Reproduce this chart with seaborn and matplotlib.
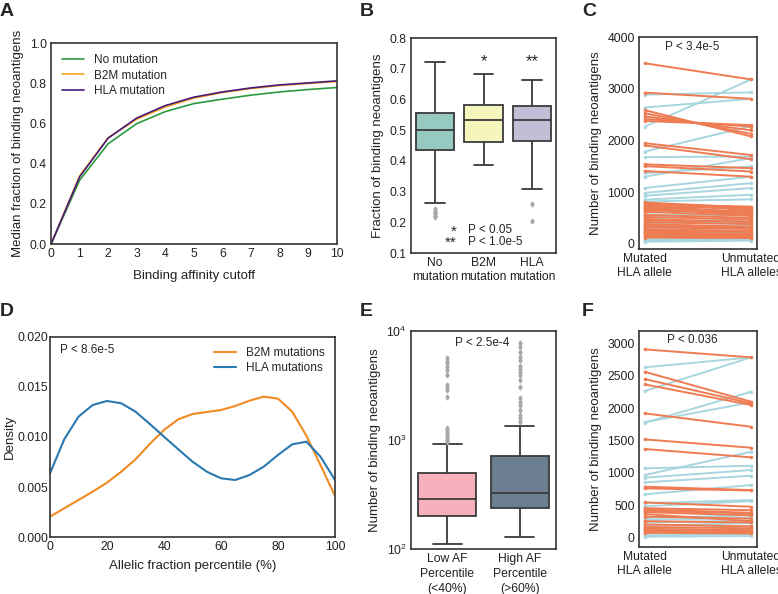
import numpy as np
import pandas as pd
import matplotlib
matplotlib.use("Agg")
import matplotlib.pyplot as plt
import seaborn as sns

# =========================
# Data
# =========================
# A: median fraction of binding neoantigens vs binding affinity cutoff
cutoffs = [0, 1, 2, 3, 4, 5, 6, 7, 8, 9, 10]
frac_no_mut = [0.0, 0.318, 0.500, 0.600, 0.660, 0.700, 0.722, 0.742, 0.758, 0.770, 0.780]
frac_b2m = [0.0, 0.340, 0.530, 0.622, 0.683, 0.727, 0.755, 0.775, 0.790, 0.800, 0.810]
frac_hla = [0.0, 0.335, 0.528, 0.628, 0.690, 0.732, 0.758, 0.778, 0.793, 0.803, 0.813]

# B: box stats (whisker low, q1, median, q3, whisker high, outliers)
b_groups = ["No\nmutation", "B2M\nmutation", "HLA\nmutation"]
b_no_mut = [0.263, 0.437, 0.502, 0.555, 0.722]
b_no_mut_out = [0.218, 0.222, 0.226, 0.230, 0.234, 0.238, 0.242]
b_b2m = [0.385, 0.461, 0.533, 0.581, 0.684]
b_b2m_out = []
b_hla = [0.308, 0.466, 0.533, 0.578, 0.662]
b_hla_out = [0.260, 0.203]

# C: paired counts (mutated HLA allele, unmutated HLA alleles)
c_pairs = [
    (3500, 3185), (2930, 2810), (2590, 2080), (2530, 2130), (2470, 2200),
    (2420, 2270), (2380, 2300), (1950, 1720), (1905, 1640), (1540, 1465),
    (1505, 1400), (1410, 1300), (800, 700), (780, 650), (760, 720),
    (740, 600), (720, 690), (700, 620), (680, 560), (650, 600),
    (620, 540), (560, 500), (520, 470), (480, 420), (450, 430),
    (420, 380), (380, 330), (350, 300), (320, 290), (280, 250),
    (250, 230), (220, 190), (200, 170), (180, 160), (150, 130), (120, 110),
    (2890, 2935), (2640, 2810), (2270, 3185), (1785, 2280), (1680, 1690),
    (1370, 1500), (1300, 1660), (1080, 1300), (985, 1175), (930, 1080),
    (855, 950), (820, 860), (600, 650), (550, 580), (500, 560),
    (430, 470), (380, 420), (330, 360), (280, 320), (240, 260),
    (200, 230), (160, 180), (120, 140), (90, 110), (70, 100),
    (50, 80), (40, 60),
]

# D: density of allelic fraction percentile
af_pct = [0, 5, 10, 15, 20, 25, 30, 35, 40, 45, 50,
          55, 60, 65, 70, 75, 80, 85, 90, 95, 100]
dens_b2m = [0.00206, 0.00289, 0.00372, 0.00455, 0.00545, 0.00654, 0.00777,
            0.00930, 0.01070, 0.01176, 0.01229, 0.01249, 0.01269, 0.01309,
            0.01362, 0.01402, 0.01382, 0.01252, 0.01010, 0.00714, 0.00412]
dens_hla = [0.00638, 0.00977, 0.01203, 0.01319, 0.01359, 0.01336, 0.01252,
            0.01130, 0.01003, 0.00877, 0.00754, 0.00654, 0.00588, 0.00571,
            0.00621, 0.00704, 0.00821, 0.00927, 0.00953, 0.00800, 0.00571]

# E: box stats on log axis
e_groups = ["Low AF\nPercentile\n(<40%)", "High AF\nPercentile\n(>60%)"]
e_low = [111, 202, 288, 494, 925]
e_low_out = [950, 1000, 1040, 1080, 1130, 1180, 1230, 1290, 2495, 2875,
             3040, 3200, 3950, 4385, 4700, 5060, 5310, 5630]
e_high = [128, 239, 329, 713, 1343]
e_high_out = [1470, 1580, 1690, 1870, 2090, 2240, 2415, 3080, 3550, 3950,
              4170, 4470, 4800, 5380, 5780, 6460, 7180, 7820]

# F: paired counts
f_pairs = [
    (2907, 2783), (2561, 2097), (2448, 2072), (2366, 2046), (1917, 1710),
    (1515, 1386), (1366, 1237), (783, 731), (757, 725), (541, 473),
    (450, 420), (430, 380), (410, 370), (390, 340), (360, 250),
    (320, 290), (250, 230), (200, 170), (160, 140), (130, 110),
    (110, 95), (90, 70), (70, 60),
    (2629, 2783), (2262, 2783), (1772, 2252), (1780, 2088), (1067, 1107),
    (963, 1324), (922, 1041), (850, 953), (665, 809), (526, 577),
    (480, 560), (300, 340), (270, 300), (230, 260), (180, 220),
    (140, 170), (100, 120), (60, 80), (30, 50), (10, 20),
]
pair_labels = ["Mutated\nHLA allele", "Unmutated\nHLA alleles"]


def box_sample(stats, fliers):
    """Small sample whose boxplot stats are exactly the given ones."""
    lo, q1, med, q3, hi = stats
    low = sorted(f for f in fliers if f < lo)
    high = sorted(f for f in fliers if f > hi)
    m = max(len(low), len(high)) + 1
    vals = low + [lo] + [q1] * (m - len(low))
    vals += [med] * m
    vals += [q3] * m
    vals += [q3] * (m - 1 - len(high)) + [hi] + high
    return vals


def pair_frame(pairs):
    rows = []
    for i, (a, b) in enumerate(pairs):
        d = "down" if b < a else "up"
        rows.append({"pair": i, "x": 0, "value": a, "dir": d})
        rows.append({"pair": i, "x": 1, "value": b, "dir": d})
    return pd.DataFrame(rows)


# =========================
# Style
# =========================
sns.set_theme(style="white")
plt.rcParams["font.family"] = ["Liberation Sans", "DejaVu Sans"]
plt.rcParams.update({
    "axes.edgecolor": "#333333",
    "axes.linewidth": 1.2,
    "axes.labelsize": 9.5,
    "axes.labelcolor": "#222222",
    "xtick.labelsize": 8.7,
    "ytick.labelsize": 8.7,
    "xtick.color": "#222222",
    "ytick.color": "#222222",
    "xtick.major.size": 0,
    "ytick.major.size": 0,
    "xtick.minor.size": 0,
    "ytick.minor.size": 0,
    "xtick.major.pad": 3,
    "ytick.major.pad": 3,
})

ORANGE_PAIR = "#ef7b52"
BLUE_PAIR = "#a8d6df"

fig = plt.figure(figsize=(7.78, 5.94), dpi=100)
axA = fig.add_axes([0.0656, 0.589, 0.367, 0.338])
axB = fig.add_axes([0.528, 0.574, 0.187, 0.362])
axC = fig.add_axes([0.821, 0.581, 0.152, 0.356])
axD = fig.add_axes([0.0643, 0.0955, 0.3663, 0.3377])
axE = fig.add_axes([0.528, 0.0758, 0.187, 0.367])
axF = fig.add_axes([0.821, 0.0796, 0.152, 0.3636])

# ---- A ----
dfA = pd.DataFrame({
    "cutoff": cutoffs * 3,
    "frac": frac_no_mut + frac_b2m + frac_hla,
    "group": ["No mutation"] * 11 + ["B2M mutation"] * 11 + ["HLA mutation"] * 11,
})
sns.lineplot(data=dfA, x="cutoff", y="frac", hue="group", ax=axA, lw=1.2,
             palette={"No mutation": "#2b9a3e", "B2M mutation": "#f5a623",
                      "HLA mutation": "#4a1a78"})
axA.set_xlim(0, 10)
axA.set_ylim(0, 1)
axA.set_xticks(range(0, 11))
axA.set_yticks(np.arange(0, 1.01, 0.2))
axA.set_yticklabels([f"{v:.1f}" for v in np.arange(0, 1.01, 0.2)])
axA.set_xlabel("Binding affinity cutoff", labelpad=7)
axA.set_ylabel("Median fraction of binding neoantigens")
axA.legend(loc="upper left", frameon=False, fontsize=8.5, handlelength=1.9,
           labelspacing=0.3, borderaxespad=0.5)

# ---- B ----
dfB = pd.DataFrame({
    "group": ([b_groups[0]] * len(box_sample(b_no_mut, b_no_mut_out))
              + [b_groups[1]] * len(box_sample(b_b2m, b_b2m_out))
              + [b_groups[2]] * len(box_sample(b_hla, b_hla_out))),
    "value": (box_sample(b_no_mut, b_no_mut_out) + box_sample(b_b2m, b_b2m_out)
              + box_sample(b_hla, b_hla_out)),
})
sns.boxplot(data=dfB, x="group", y="value", hue="group", palette="Set3",
            ax=axB, width=0.8, linewidth=1.3, linecolor="#3a3a3a", legend=False,
            flierprops=dict(marker="d", markersize=2.5, markerfacecolor="#a8a8a8",
                            markeredgecolor="#a8a8a8"))
axB.set_ylim(0.1, 0.8)
axB.set_xlim(-0.5, 2.5)
axB.set_yticks(np.arange(0.1, 0.81, 0.1))
axB.set_yticklabels([f"{v:.1f}" for v in np.arange(0.1, 0.81, 0.1)])
axB.set_xlabel("")
axB.set_ylabel("Fraction of binding neoantigens")
axB.text(1, 0.722, "*", ha="center", va="center", fontsize=12)
axB.text(2, 0.722, "**", ha="center", va="center", fontsize=12)
axB.text(0.45, 0.170, "*", ha="right", va="center", fontsize=11)
axB.text(0.45, 0.132, "**", ha="right", va="center", fontsize=11)
axB.text(0.69, 0.174, "P < 0.05", ha="left", va="center", fontsize=8.5)
axB.text(0.69, 0.136, "P < 1.0e-5", ha="left", va="center", fontsize=8.5)

# ---- C ----
dfC = pair_frame(c_pairs)
sns.lineplot(data=dfC, x="x", y="value", hue="dir", units="pair", estimator=None,
             hue_order=["up", "down"], palette={"up": BLUE_PAIR, "down": ORANGE_PAIR},
             marker="o", markersize=2.5, markeredgewidth=0, lw=1.4, legend=False, ax=axC)
axC.set_xlim(-0.055, 1.055)
axC.set_ylim(-100, 4000)
axC.set_xticks([0, 1])
axC.set_xticklabels(pair_labels)
axC.set_yticks(range(0, 4001, 1000))
axC.set_xlabel("")
axC.set_ylabel("Number of binding neoantigens")
axC.text(0.45, 3820, "P < 3.4e-5", ha="center", va="center", fontsize=8.5)

# ---- D ----
dfD = pd.DataFrame({
    "pct": af_pct * 2,
    "density": dens_b2m + dens_hla,
    "group": ["B2M mutations"] * len(af_pct) + ["HLA mutations"] * len(af_pct),
})
sns.lineplot(data=dfD, x="pct", y="density", hue="group", ax=axD, lw=1.5,
             palette={"B2M mutations": "#f28a22", "HLA mutations": "#2a78b0"})
axD.set_xlim(0, 100)
axD.set_ylim(0, 0.02)
axD.set_xticks(range(0, 101, 20))
axD.set_yticks(np.arange(0, 0.0201, 0.005))
axD.set_yticklabels([f"{v:.3f}" for v in np.arange(0, 0.0201, 0.005)])
axD.tick_params(axis="y", pad=1.5)
axD.set_xlabel("Allelic fraction percentile (%)", labelpad=5)
axD.set_ylabel("Density", labelpad=1)
axD.legend(loc="upper right", frameon=False, fontsize=8.5, handlelength=1.9,
           labelspacing=0.2, borderaxespad=0.5)
axD.text(3.5, 0.0187, "P < 8.6e-5", ha="left", va="center", fontsize=8.5)

# ---- E ----
dfE = pd.DataFrame({
    "group": ([e_groups[0]] * len(box_sample(e_low, e_low_out))
              + [e_groups[1]] * len(box_sample(e_high, e_high_out))),
    "value": box_sample(e_low, e_low_out) + box_sample(e_high, e_high_out),
})
sns.boxplot(data=dfE, x="group", y="value", hue="group",
            palette=["#f9b0bd", "#6b7f91"], saturation=1, ax=axE, width=0.8,
            linewidth=1.3, linecolor="#3a3a3a", legend=False,
            flierprops=dict(marker="d", markersize=2.5, markerfacecolor="#a8a8a8",
                            markeredgecolor="#a8a8a8"))
axE.set_yscale("log")
axE.set_ylim(100, 10000)
axE.set_xlim(-0.5, 1.5)
axE.set_xlabel("")
axE.set_ylabel("Number of binding neoantigens")
for t in axE.get_xticklabels():
    t.set_linespacing(1.35)
axE.text(0.475, 7800, "P < 2.5e-4", ha="center", va="center", fontsize=8.5)

# ---- F ----
dfF = pair_frame(f_pairs)
sns.lineplot(data=dfF, x="x", y="value", hue="dir", units="pair", estimator=None,
             hue_order=["up", "down"], palette={"up": BLUE_PAIR, "down": ORANGE_PAIR},
             marker="o", markersize=2.5, markeredgewidth=0, lw=1.4, legend=False, ax=axF)
axF.set_xlim(-0.055, 1.055)
axF.set_ylim(-145, 3195)
axF.set_xticks([0, 1])
axF.set_xticklabels(pair_labels)
axF.set_yticks(range(0, 3001, 500))
axF.set_xlabel("")
axF.set_ylabel("Number of binding neoantigens")
axF.text(0.45, 3051, "P < 0.036", ha="center", va="center", fontsize=8.5)

# panel letters
for lbl, x, y in [("A", 0.0, 0.995), ("B", 0.462, 0.995), ("C", 0.748, 0.995),
                  ("D", 0.0, 0.49), ("E", 0.462, 0.49), ("F", 0.748, 0.49)]:
    fig.text(x, y, lbl, fontsize=14, fontweight="bold", ha="left", va="top")

fig.savefig("out.png", dpi=100)
